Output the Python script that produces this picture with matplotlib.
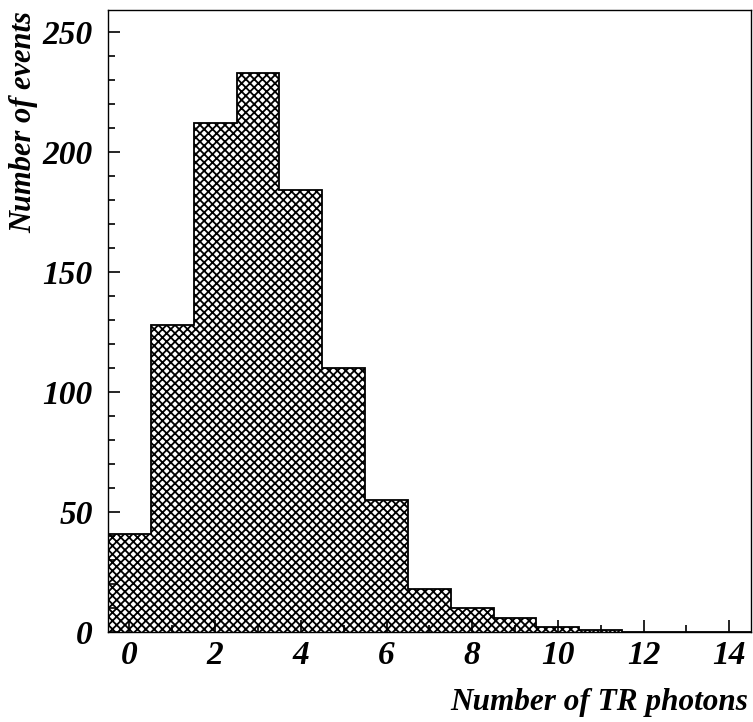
import numpy as np
import matplotlib
matplotlib.use("Agg")
from matplotlib import pyplot as plt
from matplotlib.ticker import MultipleLocator

# counts per number of TR photons (0..14)
n_photons = [0, 1, 2, 3, 4, 5, 6, 7, 8, 9, 10, 11, 12, 13, 14]
counts = [41, 128, 212, 233, 184, 110, 55, 18, 10, 6, 2, 1, 0, 0, 0]
x_ticks = [0, 2, 4, 6, 8, 10, 12, 14]
y_ticks = [0, 50, 100, 150, 200, 250]

plt.rcParams['font.family'] = 'Liberation Serif'
plt.rcParams['hatch.linewidth'] = 1.3
plt.rcParams['hatch.color'] = 'black'

fig = plt.figure(figsize=(7.53, 7.22), dpi=100)
ax = fig.add_axes([0.1434, 0.1247, 0.8536, 0.8613])

edges = np.append(np.array(n_photons) - 0.5, n_photons[-1] + 0.5)
ax.stairs(counts, edges, fill=True, facecolor='white', edgecolor='black',
          hatch='xxxx', linewidth=0)
ax.stairs(counts, edges, fill=False, color='black', linewidth=1.3)

ax.set_xlim(-0.5, 14.5)
ax.set_ylim(0, 259)
ax.set_xticks(x_ticks)
ax.set_yticks(y_ticks)
ax.xaxis.set_minor_locator(MultipleLocator(1))
ax.yaxis.set_minor_locator(MultipleLocator(10))
ax.tick_params(which='both', direction='in', top=False, right=False, width=1.2)
ax.tick_params(which='major', length=8.6)
ax.tick_params(which='minor', length=4.8)
ax.tick_params(axis='x', pad=6)
ax.tick_params(axis='y', pad=11)
for lab in ax.get_xticklabels() + ax.get_yticklabels():
    lab.set_fontsize(24)
    lab.set_fontweight('bold')
    lab.set_fontstyle('italic')
for s in ax.spines.values():
    s.set_linewidth(1.0)

fig.text(0.993, 0.017, 'Number of TR photons', ha='right', va='baseline',
         fontsize=22.5, fontweight='bold', fontstyle='italic')
fig.text(0.031, 0.984, 'Number of events', ha='center', va='top', rotation=90,
         fontsize=22, fontweight='bold', fontstyle='italic')

fig.savefig('out.png', dpi=100)
